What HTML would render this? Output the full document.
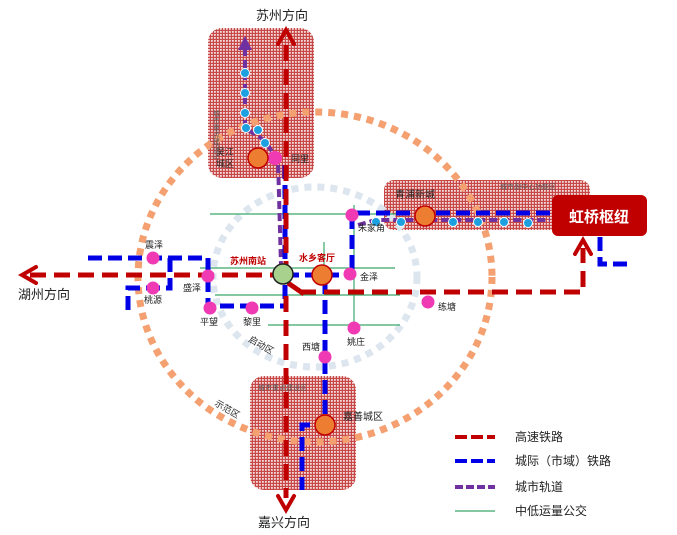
<!DOCTYPE html>
<html><head><meta charset="utf-8"><style>
html,body{margin:0;padding:0;background:#fff;}
svg{display:block;font-family:"Liberation Sans","Noto Sans CJK SC",sans-serif;}
</style></head><body>
<svg width="677" height="535" viewBox="0 0 677 535" xmlns="http://www.w3.org/2000/svg">
<defs>
<pattern id="dots" width="3" height="3" patternUnits="userSpaceOnUse">
<rect width="3" height="3" fill="#c84848"/><rect x="1" y="1" width="1.8" height="1.8" fill="#f4dcdc"/>
</pattern>
</defs>
<rect x="208" y="28" width="106" height="150" rx="14" fill="url(#dots)"/>
<rect x="384" y="180" width="206" height="50" rx="10" fill="url(#dots)"/>
<rect x="250" y="376" width="106" height="114" rx="14" fill="url(#dots)"/>
<ellipse cx="315" cy="277" rx="102" ry="90" fill="none" stroke="#dde6ef" stroke-width="7" stroke-dasharray="7,6"/>
<ellipse cx="315" cy="277" rx="177" ry="165" fill="none" stroke="#f4a070" stroke-width="7" stroke-dasharray="7,6"/>
<g stroke="#3aa86b" stroke-width="1.2">
<line x1="210" y1="214" x2="400" y2="214"/>
<line x1="200" y1="268" x2="395" y2="268"/>
<line x1="215" y1="295" x2="400" y2="295"/>
<line x1="268" y1="325" x2="400" y2="325"/>
<line x1="354" y1="205" x2="354" y2="330"/>
<line x1="324" y1="242" x2="324" y2="270"/>
</g>
<g stroke="#7030a0" stroke-width="4" stroke-dasharray="8,4" fill="none">
<polyline points="245,48 245,128 264,140 278,160 281,265"/>
<polyline points="358,225 375,220 550,220"/>
</g>
<polygon points="238,50 245,36 252,50" fill="#7030a0"/>
<g stroke="#0000e6" stroke-width="5" stroke-dasharray="14,6" fill="none">
<polyline points="550,213 352,213 352,272"/>
<line x1="285" y1="165" x2="285" y2="305"/>
<line x1="285" y1="275" x2="350" y2="275"/>
<polyline points="325,280 325,425 302,425 302,490"/>
<polyline points="88,258 208,258 208,306 285,306"/>
<polyline points="170,258 170,288 128,288 128,312"/>
<polyline points="600,237 600,264 632,264"/>
</g>
<g stroke="#c00000" stroke-width="5" stroke-dasharray="16,8" fill="none">
<line x1="286" y1="45" x2="286" y2="270"/>
<line x1="286" y1="296" x2="286" y2="498"/>
<line x1="30" y1="275" x2="280" y2="275"/>
<polyline points="300,292 583,292 583,248"/>
</g>
<line x1="288" y1="283" x2="304" y2="294" stroke="#c00000" stroke-width="5"/>
<g stroke="#c00000" stroke-width="4" fill="none" stroke-linecap="round">
<polyline points="278,44 286,30 294,44"/>
<polyline points="36,267 22,275 36,283"/>
<polyline points="278,496 286,510 294,496"/>
<polyline points="575,254 583,240 591,254"/>
</g>
<g fill="#1ca0e0" stroke="#fff" stroke-width="1">
<circle cx="245" cy="73" r="4.5"/><circle cx="245" cy="93" r="4.5"/><circle cx="245" cy="113" r="4.5"/>
<circle cx="246" cy="128" r="4.5"/><circle cx="258" cy="130" r="4.5"/><circle cx="265" cy="143" r="4.5"/>
<circle cx="376" cy="222" r="4.5"/><circle cx="401" cy="222" r="4.5"/><circle cx="453" cy="222" r="4.5"/>
<circle cx="478" cy="222" r="4.5"/><circle cx="504" cy="222" r="4.5"/><circle cx="528" cy="223" r="4.5"/>
</g>
<g fill="#f03ab4">
<circle cx="153" cy="258" r="6.5"/><circle cx="153" cy="288" r="6.5"/><circle cx="208" cy="276" r="6.5"/>
<circle cx="210" cy="308" r="6.5"/><circle cx="252" cy="308" r="6.5"/><circle cx="350" cy="274" r="6.5"/>
<circle cx="352" cy="215" r="6.5"/><circle cx="354" cy="328" r="6.5"/><circle cx="325" cy="357" r="6.5"/>
<circle cx="428" cy="302" r="6.5"/><circle cx="275" cy="158" r="7"/>
</g>
<g fill="#ed7d31" stroke="#c00000" stroke-width="1.5">
<circle cx="258" cy="158" r="10"/><circle cx="425" cy="216" r="10"/>
<circle cx="322" cy="275" r="10"/><circle cx="325" cy="425" r="10"/>
</g>
<circle cx="283" cy="274" r="10" fill="#a9d18e" stroke="#222" stroke-width="1.5"/>
<rect x="552" y="195" width="95" height="41" rx="6" fill="#c00000"/>
<text x="599" y="222" font-size="15" font-weight="bold" fill="#fff" text-anchor="middle">虹桥枢纽</text>
<g font-size="13" fill="#222">
<text x="256" y="20">苏州方向</text>
<text x="18" y="299">湖州方向</text>
<text x="258" y="527">嘉兴方向</text>
</g>
<g font-size="9" fill="#222">
<text x="145" y="248">震泽</text><text x="144" y="303">桃源</text><text x="183" y="291">盛泽</text>
<text x="200" y="325">平望</text><text x="243" y="325">黎里</text><text x="360" y="280">金泽</text>
<text x="358" y="231">朱家角</text><text x="347" y="345">姚庄</text><text x="302" y="350">西塘</text>
<text x="438" y="310">练塘</text><text x="291" y="162">同里</text>
<text x="216" y="155">吴江</text><text x="216" y="167">城区</text>
<text x="395" y="198" font-size="10">青浦新城</text>
<text x="343" y="420" font-size="10">嘉善城区</text>
<text x="248" y="341" transform="rotate(30 248 341)">启动区</text>
<text x="214" y="405" transform="rotate(30 214 405)">示范区</text>
<text x="500" y="189" font-size="7" fill="#555">城市副中心功能区</text>
<text x="258" y="390" font-size="7" fill="#555">城市重点建设区</text>
</g>
<text x="216" y="110" font-size="7" fill="#555" writing-mode="tb">城市重点建设区</text>
<g font-size="9" font-weight="bold" fill="#c00000">
<text x="230" y="264">苏州南站</text><text x="299" y="261">水乡客厅</text>
</g>
<g stroke-width="4" stroke-dasharray="12,4">
<line x1="455" y1="437" x2="495" y2="437" stroke="#c00000"/>
<line x1="455" y1="461" x2="495" y2="461" stroke="#0000e6"/>
<line x1="455" y1="487" x2="495" y2="487" stroke="#7030a0" stroke-dasharray="8,3"/>
</g>
<line x1="455" y1="511" x2="495" y2="511" stroke="#3aa86b" stroke-width="1.2"/>
<g font-size="12" fill="#222">
<text x="515" y="441">高速铁路</text>
<text x="515" y="465">城际（市域）铁路</text>
<text x="515" y="491">城市轨道</text>
<text x="515" y="515">中低运量公交</text>
</g>
</svg>
</body></html>
